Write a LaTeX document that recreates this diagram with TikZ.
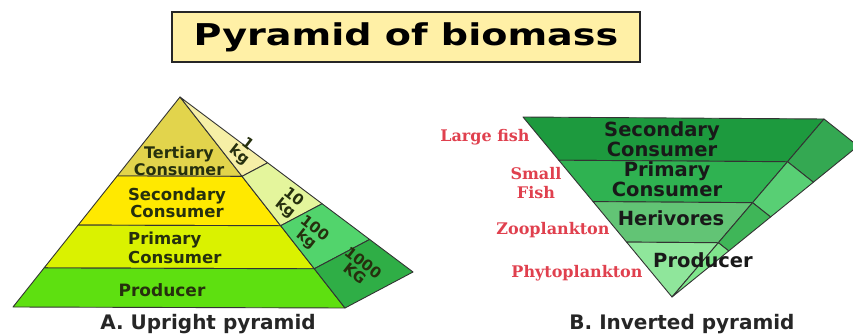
\documentclass[tikz,border=0pt]{standalone}
\usepackage{fontspec}
\setmainfont{DejaVu Sans}
\newfontfamily\titlefont{DejaVu Sans}[FakeStretch=1.27]
\newfontfamily\fishfont{DejaVu Serif}
\usetikzlibrary{calc}
\usepackage{xcolor}
\definecolor{titlefill}{HTML}{FFF0A6}
\definecolor{lvltext}{HTML}{26300E}
\definecolor{fishred}{HTML}{E0404E}
% upright pyramid
\definecolor{terfill}{HTML}{E2D44C}
\definecolor{secfill}{HTML}{FFE900}
\definecolor{prifill}{HTML}{DAF200}
\definecolor{profill}{HTML}{5EE010}
\definecolor{kgone}{HTML}{F6EFA6}
\definecolor{kgten}{HTML}{E4F59C}
\definecolor{kghundred}{HTML}{52D46C}
\definecolor{kgthousand}{HTML}{2FAE46}
% inverted pyramid
\definecolor{invsec}{HTML}{1D9A3E}
\definecolor{invpri}{HTML}{2FB251}
\definecolor{invherb}{HTML}{62C475}
\definecolor{invprod}{HTML}{8FE69B}
\definecolor{invsideA}{HTML}{34A852}
\definecolor{invsideB}{HTML}{58CF74}
\definecolor{invsideC}{HTML}{3FB658}
\definecolor{invsideD}{HTML}{80E68C}

\begin{document}
\begin{tikzpicture}[x=1pt, y=-1pt,
    band/.style={draw=black!80, line width=0.9pt, line join=round},
    level/.style={font=\bfseries\fontsize{16.5}{13}\selectfont, align=center,
      text=lvltext, inner sep=0pt},
    invlevel/.style={level, text=black!90, font=\bfseries\fontsize{19.5}{15}\selectfont},
    mass/.style={level, font=\bfseries\fontsize{15}{13.5}\selectfont, rotate=-38},
    organism/.style={font=\fishfont\bfseries\fontsize{16}{19}\selectfont,
      align=center, text=fishred, inner sep=0pt},
    caption/.style={font=\bfseries\fontsize{20}{21}\selectfont, text=black!85, inner sep=0pt}
  ]
    \clip (0,0) rectangle (853,336);

    % title
    \node[draw=black!85, line width=1.6pt, fill=titlefill, minimum width=468pt,
      minimum height=50pt, font=\titlefont\bfseries\fontsize{30}{32}\selectfont] (title) at (406,37) {Pyramid of biomass};

    % A. upright pyramid
    \coordinate (apex) at (180,97);
    \coordinate (baseL) at (13,307);
    \coordinate (baseR) at (345,308);
    \coordinate (sideR) at (413,272);
    \foreach \t [count=\i] in {0.376,0.610,0.814} {
      \coordinate (uL\i) at ($(apex)!\t!(baseL)$);
      \coordinate (uR\i) at ($(apex)!\t!(baseR)$);
      \coordinate (uS\i) at ($(apex)!\t!(sideR)$);
    }
    \filldraw[band, fill=terfill] (apex) -- (uL1) -- (uR1) -- cycle;
    \filldraw[band, fill=secfill] (uL1) -- (uL2) -- (uR2) -- (uR1) -- cycle;
    \filldraw[band, fill=prifill] (uL2) -- (uL3) -- (uR3) -- (uR2) -- cycle;
    \filldraw[band, fill=profill] (uL3) -- (baseL) -- (baseR) -- (uR3) -- cycle;
    \filldraw[band, fill=kgone] (apex) -- (uR1) -- (uS1) -- cycle;
    \filldraw[band, fill=kgten] (uR1) -- (uR2) -- (uS2) -- (uS1) -- cycle;
    \filldraw[band, fill=kghundred] (uR2) -- (uR3) -- (uS3) -- (uS2) -- cycle;
    \filldraw[band, fill=kgthousand] (uR3) -- (baseR) -- (sideR) -- (uS3) -- cycle;

    \node[level, font=\bfseries\fontsize{16}{11}\selectfont] (tertiary) at (179,161) {Tertiary\\Consumer};
    \node[level] (secondary) at (177,203) {Secondary\\Consumer};
    \node[level, align=left, anchor=west, font=\bfseries\fontsize{16.5}{19}\selectfont] (primary) at (128,248) {Primary\\Consumer};
    \node[level, font=\bfseries\fontsize{17}{17}\selectfont] (producer) at (162,290) {Producer};
    \node[mass] (oneKg) at (243,150) {1\\kg};
    \node[mass] (tenKg) at (289,203) {10\\kg};
    \node[mass] (hundredKg) at (310,234) {100\\kg};
    \node[mass] (thousandKg) at (359,268) {1000\\KG};
    \node[caption] (captionA) at (208,324) {A. Upright pyramid};

    % B. inverted pyramid
    \coordinate (topL) at (523,117);
    \coordinate (topR) at (824,119);
    \coordinate (tip) at (672,297);
    \coordinate (sideT) at (858,146);
    \foreach \t [count=\i] in {0.76,0.53,0.305} {
      \coordinate (vL\i) at ($(tip)!\t!(topL)$);
      \coordinate (vR\i) at ($(tip)!\t!(topR)$);
      \coordinate (vS\i) at ($(tip)!\t!(sideT)$);
    }
    \filldraw[band, fill=invsec] (topL) -- (topR) -- (vR1) -- (vL1) -- cycle;
    \filldraw[band, fill=invpri] (vL1) -- (vR1) -- (vR2) -- (vL2) -- cycle;
    \filldraw[band, fill=invherb] (vL2) -- (vR2) -- (vR3) -- (vL3) -- cycle;
    \filldraw[band, fill=invprod] (vL3) -- (vR3) -- (tip) -- cycle;
    \filldraw[band, fill=invsideA] (topR) -- (sideT) -- (vS1) -- (vR1) -- cycle;
    \filldraw[band, fill=invsideB] (vR1) -- (vS1) -- (vS2) -- (vR2) -- cycle;
    \filldraw[band, fill=invsideC] (vR2) -- (vS2) -- (vS3) -- (vR3) -- cycle;
    \filldraw[band, fill=invsideD] (vR3) -- (vS3) -- (tip) -- cycle;

    \node[invlevel, font=\bfseries\fontsize{19.5}{17}\selectfont] (invSecondary) at (662,139) {Secondary\\Consumer};
    \node[invlevel] (invPrimary) at (667,179) {Primary\\Consumer};
    \node[invlevel] (herivores) at (671,218) {Herivores};
    \node[invlevel] (invProducer) at (703,260) {Producer};

    \node[organism] (largeFish) at (485,137) {Large fish};
    \node[organism] (smallFish) at (536,183) {Small\\Fish};
    \node[organism] (zooplankton) at (553,230) {Zooplankton};
    \node[organism] (phytoplankton) at (577,273) {Phytoplankton};
    \node[caption] (captionB) at (682,324) {B. Inverted pyramid};
  \end{tikzpicture}
\end{document}
